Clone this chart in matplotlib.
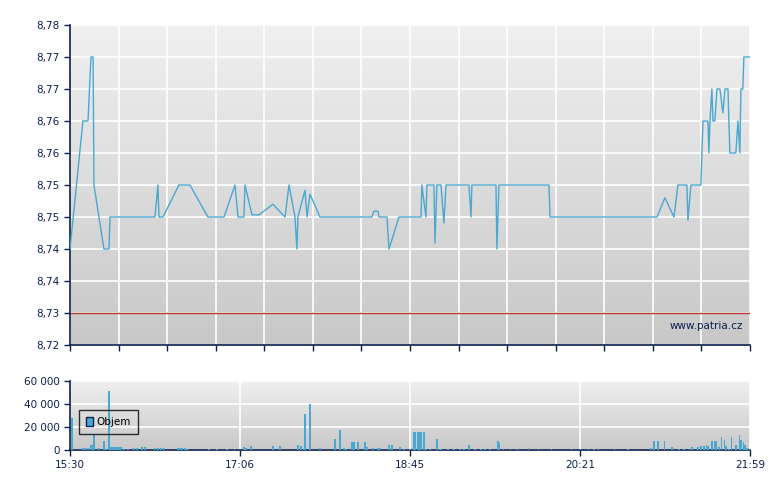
import numpy as np
import matplotlib
matplotlib.use("Agg")
import matplotlib.pyplot as plt

# price series: minutes after 15:30, price
price_min = [0, 7.4, 10.3, 12, 13.2, 13.7, 19.4, 22.3, 22.9, 48.6, 50.3, 50.9, 53.2, 62.3, 68.6, 78.9, 88.1,
             94.4, 96.1, 99.5, 100.1, 104.1, 108.1, 116.1, 123, 125.3, 128.7, 129.8, 130.4, 134.4, 135.6, 137.3,
             143, 172.7, 173.9, 176.2, 176.7, 181.3, 182.5, 188.2, 200.8, 201.3, 203.6, 204.2, 208.2, 208.8,
             209.9, 212.2, 213.9, 215.1, 228.2, 229.4, 229.9, 243.7, 244.2, 245.4, 274, 274.6, 335.8, 340.3,
             345.5, 347.8, 352.9, 353.5, 355.2, 360.9, 362.1, 364.9, 365.5, 366.1, 367.2, 367.8, 368.9, 370.1,
             371.8, 373.5, 374.7, 376.4, 376.9, 377.5, 380.9, 382.1, 383.2, 383.8, 384.9, 385.5, 389]
price_val = [8.738, 8.762, 8.762, 8.774, 8.774, 8.750, 8.738, 8.738, 8.744, 8.744, 8.750, 8.744, 8.744, 8.750,
             8.750, 8.744, 8.744, 8.750, 8.744, 8.744, 8.750, 8.7444, 8.7444, 8.7464, 8.744, 8.750, 8.744, 8.738,
             8.744, 8.749, 8.744, 8.7483, 8.744, 8.744, 8.7451, 8.7451, 8.744, 8.744, 8.738, 8.744, 8.744, 8.750,
             8.744, 8.750, 8.750, 8.7391, 8.750, 8.750, 8.7429, 8.750, 8.750, 8.744, 8.750, 8.750, 8.738, 8.750,
             8.750, 8.744, 8.744, 8.7476, 8.744, 8.750, 8.750, 8.7434, 8.750, 8.750, 8.762, 8.762, 8.756, 8.762,
             8.768, 8.762, 8.762, 8.768, 8.768, 8.7635, 8.768, 8.768, 8.762, 8.756, 8.756, 8.762, 8.756, 8.768,
             8.768, 8.774, 8.774]
ref_price = 8.726

y_ticks = [8.72, 8.726, 8.732, 8.738, 8.744, 8.750, 8.756, 8.762, 8.768, 8.774, 8.780]
y_labels = ["8,72", "8,73", "8,73", "8,74", "8,74", "8,75", "8,75", "8,76", "8,76", "8,77", "8,77", "8,78"][:1] + \
           ["8,73", "8,74", "8,74", "8,75", "8,75", "8,76", "8,76", "8,77", "8,77", "8,78"]

# volume bars
vol_min = [1, 7.4, 8.6, 10.3, 12, 13.2, 13.7, 16.6, 19.4, 20.6, 22.3, 23.5, 24.6, 25.7, 26.9, 28, 29.1, 30.9,
           33.2, 36.6, 38.3, 41.2, 42.9, 48.6, 50.3, 52, 53.8, 61.8, 63, 64.1, 65.8, 67, 79.5, 84, 89.8, 94,
           99.5, 100.6, 103.5, 116.1, 120.1, 130.4, 132.1, 133.8, 134.4, 137.3, 143, 151.6, 154.4, 156.7, 157.9,
           161.3, 162.4, 164.7, 168.7, 169.9, 173.3, 176.2, 177.4, 182.5, 184.2, 188.7, 191, 194.4, 196.7, 197.3,
           199, 200.2, 200.8, 202.5, 203.6, 205.9, 210, 211.7, 212.2, 216.2, 219.6, 223, 225.3, 228.2, 231.6,
           235, 237.3, 240.2, 244.7, 245.8, 248.1, 252, 255.5, 256.6, 262.3, 268, 275.4, 286.9, 292.1, 296.7,
           299.6, 302.4, 311.6, 319.3, 332.5, 334.2, 336.5, 340, 344.5, 348.5, 351.4, 354.3, 355.9, 359.4,
           361.1, 362.8, 364, 365.1, 367.4, 368.6, 369.7, 371.4, 372.6, 374.3, 375.4, 377.1, 378.3, 381.1,
           382.9, 384, 385.2, 386.3, 387.4, 388.6]
vol_val = [28000, 1400, 1400, 1400, 4600, 4600, 13200, 1400, 8000, 1200, 51000, 2300, 2300, 2300, 2300, 2300,
           2300, 1100, 1100, 1400, 1400, 2300, 2300, 2000, 1400, 1400, 1400, 1400, 1400, 1400, 1400, 800, 1100,
           1100, 1100, 1100, 2300, 1400, 3200, 3200, 3200, 4600, 3200, 1100, 31300, 40000, 1400, 9500, 17500,
           1400, 800, 7200, 7200, 7200, 7200, 2300, 1400, 1400, 1400, 4000, 4000, 2600, 1100, 1100, 16000,
           16000, 16000, 16000, 16000, 16000, 1100, 1100, 9800, 1100, 1100, 1100, 1100, 1100, 1100, 4000, 1100,
           1100, 1100, 1100, 8000, 6300, 1100, 1100, 1100, 2000, 2000, 1100, 800, 800, 1100, 1100, 1100, 1100,
           1100, 1100, 1400, 8000, 8000, 8000, 2900, 1100, 1100, 1100, 2300, 2300, 3200, 3200, 4600, 3200,
           8000, 7500, 7500, 2600, 11500, 8900, 3200, 1100, 11000, 4600, 13200, 8600, 6600, 4600, 1400, 1100,
           1100, 1100, 1100, 1100, 1100]
vol_min = vol_min[:len(vol_val)]
vol_val = vol_val[:len(vol_min)]

x_tick_pos = [0, 97.25, 194.5, 291.75, 389]
x_tick_labels = ["15:30", "17:06", "18:45", "20:21", "21:59"]
vol_ticks = [0, 20000, 40000, 60000]
vol_labels = ["0", "20 000", "40 000", "60 000"]

navy = "#0a1f4d"
line_c = "#4aa8d0"
W, H = 780, 490
fig = plt.figure(figsize=(7.8, 4.9), dpi=100)

def gradient(ax):
    g = np.linspace(0, 1, 256).reshape(-1, 1)
    cmap = matplotlib.colors.LinearSegmentedColormap.from_list("g", ["#f0f0f0", "#c8c8c8"])
    ax.imshow(g, aspect="auto", cmap=cmap, extent=(0, 1, 0, 1), transform=ax.transAxes, zorder=0)

def style(ax):
    for s in ["top", "right"]:
        ax.spines[s].set_visible(False)
    for s in ["left", "bottom"]:
        ax.spines[s].set_color(navy)
        ax.spines[s].set_linewidth(1.2)
    ax.tick_params(colors=navy, labelsize=7.5, length=4, width=1, direction="out")

ax = fig.add_axes([70 / W, (H - 345) / H, 680 / W, 320 / H])
gradient(ax)
style(ax)
ax.plot(price_min, price_val, color=line_c, lw=1, zorder=3)
ax.axhline(ref_price, color="#b83a30", lw=1, zorder=2)
ax.set_xlim(0, 389)
ax.set_ylim(8.72, 8.78)
ax.set_yticks(y_ticks)
ax.set_yticklabels(y_labels)
ax.set_xticks(np.linspace(0, 389, 15))
ax.set_xticklabels([])
ax.grid(True, color="white", lw=1.2, zorder=1)
ax.set_axisbelow(True)
ax.text(0.99, 0.06, "www.patria.cz", transform=ax.transAxes, ha="right", va="center",
        fontsize=7.5, color=navy, zorder=4)

bx = fig.add_axes([70 / W, (H - 450) / H, 680 / W, 69 / H])
gradient(bx)
style(bx)
bx.bar(vol_min, vol_val, width=0.9, color=line_c, zorder=3)
bx.set_xlim(0, 389)
bx.set_ylim(0, 60000)
bx.set_yticks(vol_ticks)
bx.set_yticklabels(vol_labels)
bx.set_xticks(x_tick_pos)
bx.set_xticklabels(x_tick_labels)
bx.grid(True, color="white", lw=1.2, zorder=1)
bx.set_axisbelow(True)
leg = bx.legend([plt.Rectangle((0, 0), 1, 1, fc=line_c, ec=navy)], ["Objem"], loc="upper left",
                bbox_to_anchor=(0.005, 0.66), fontsize=7.5, frameon=True, fancybox=False,
                handlelength=0.7, handleheight=0.9, handletextpad=0.3, borderpad=0.7)
leg.get_frame().set_edgecolor("black")
leg.get_frame().set_facecolor("none")
leg.set_zorder(5)
fig.savefig("out.png", dpi=100)
